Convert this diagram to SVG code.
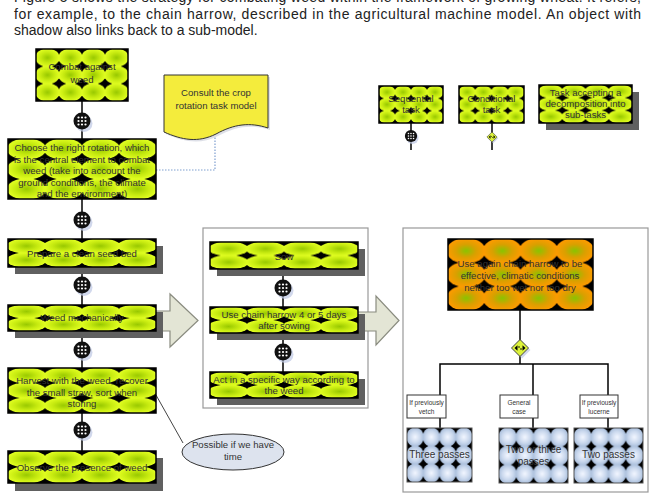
<svg xmlns="http://www.w3.org/2000/svg" width="651" height="494" viewBox="0 0 651 494">
<style>
.t{font-family:"Liberation Sans",Arial,sans-serif;font-size:9.6px;fill:#333;text-anchor:middle}
.tb{font-family:"Liberation Sans",Arial,sans-serif;font-size:10px;fill:#333;text-anchor:middle}
.body{font-family:"Liberation Sans",Arial,sans-serif;font-size:14px;fill:#222}
.sm{font-family:"Liberation Sans",Arial,sans-serif;font-size:6.5px;fill:#333;text-anchor:middle}
.nd{stroke:#000;stroke-width:1.5}
.sh{fill:#606060}
.ln{stroke:#000;stroke-width:1.5;fill:none}
.box{fill:#fff;stroke:#999;stroke-width:1.2}
.lbl{fill:#fff;stroke:#333;stroke-width:1}
.arw{fill:#e3e5d5;stroke:#8a8c80;stroke-width:1.2}
</style>
<defs>
<radialGradient id="gY"><stop offset="0" stop-color="#98c800"/><stop offset="0.55" stop-color="#c6ea10"/><stop offset="1" stop-color="#e2ff22"/></radialGradient>
<radialGradient id="gO"><stop offset="0" stop-color="#88c400"/><stop offset="0.5" stop-color="#d8a000"/><stop offset="1" stop-color="#ff9a00"/></radialGradient>
<radialGradient id="gB"><stop offset="0" stop-color="#f2f6ff"/><stop offset="0.6" stop-color="#cbd9ee"/><stop offset="1" stop-color="#a9bedb"/></radialGradient>
<pattern id="pY3" patternUnits="objectBoundingBox" width="0.25" height="0.33334" patternContentUnits="objectBoundingBox">
<rect width="0.25" height="0.33334" fill="#000"/><ellipse cx="0.125" cy="0.16667" rx="0.133" ry="0.177" fill="url(#gY)"/></pattern>
<pattern id="pY2" patternUnits="objectBoundingBox" width="0.25" height="0.5" patternContentUnits="objectBoundingBox">
<rect width="0.25" height="0.5" fill="#000"/><ellipse cx="0.125" cy="0.25" rx="0.135" ry="0.27" fill="url(#gY)"/></pattern>
<pattern id="pO" patternUnits="objectBoundingBox" width="0.25" height="0.33334" patternContentUnits="objectBoundingBox">
<rect width="0.25" height="0.33334" fill="#000"/><ellipse cx="0.125" cy="0.16667" rx="0.135" ry="0.18" fill="url(#gO)"/></pattern>
<pattern id="pB" patternUnits="objectBoundingBox" width="0.25" height="0.33334" patternContentUnits="objectBoundingBox">
<rect width="0.25" height="0.33334" fill="#000"/><ellipse cx="0.125" cy="0.16667" rx="0.133" ry="0.177" fill="url(#gB)"/></pattern>
<g id="seqSym">
<circle cx="2" cy="2.5" r="8.5" fill="#c2cbe6" opacity="0.75"/>
<circle r="8.5" fill="#111"/>
<g fill="#fff">
<circle cx="-3.5" cy="-3.5" r="1.1"/><circle cx="0" cy="-3.5" r="1.1"/><circle cx="3.5" cy="-3.5" r="1.1"/>
<circle cx="-3.5" cy="0" r="1.1"/><circle cx="0" cy="0" r="1.1"/><circle cx="3.5" cy="0" r="1.1"/>
<circle cx="-3.5" cy="3.5" r="1.1"/><circle cx="0" cy="3.5" r="1.1"/><circle cx="3.5" cy="3.5" r="1.1"/>
</g>
</g>
<g id="decSym">
<polygon points="2,-6.5 10.5,2 2,10.5 -6.5,2" fill="#c2cbe6" opacity="0.75"/>
<polygon points="0,-8.5 8.5,0 0,8.5 -8.5,0" fill="#dcf23a" stroke="#444" stroke-width="1"/>
<path d="M-5.5,0 l3,-2.8 v5.6z M5.5,0 l-3,-2.8 v5.6z" fill="#000"/>
<circle cx="-1" cy="-1" r="0.8" fill="#000"/><circle cx="1" cy="1" r="0.8" fill="#000"/>
</g>
</defs>

<rect width="651" height="494" fill="#fff"/>

<g id="body-text">
<text class="body" x="14" y="2" textLength="627" lengthAdjust="spacing">Figure 5 shows the strategy for combating weed within the framework of growing wheat. It refers,</text>
<text class="body" x="14" y="18.5" textLength="627" lengthAdjust="spacing">for example, to the chain harrow, described in the agricultural machine model. An object with</text>
<text class="body" x="14" y="35">shadow also links back to a sub-model.</text>
</g>

<g id="containers">
<rect class="box" x="203" y="228" width="165" height="180"/>
<rect class="box" x="403" y="228" width="245" height="264"/>
</g>

<g id="connectors">
<line class="ln" x1="82" y1="101" x2="82" y2="451"/>
<line class="ln" x1="283" y1="269" x2="283" y2="372"/>
<polyline class="ln" points="520,310 520,364"/>
<polyline class="ln" points="440,396 440,364 608,364 608,396"/>
<line class="ln" x1="533" y1="364" x2="533" y2="396"/>
<line class="ln" x1="440" y1="418" x2="440" y2="428"/>
<line class="ln" x1="533" y1="418" x2="533" y2="428"/>
<line class="ln" x1="608" y1="418" x2="608" y2="428"/>
<line class="ln" x1="411" y1="123" x2="411" y2="150"/>
<line class="ln" x1="492" y1="123" x2="492" y2="150"/>
<polyline points="156,170 215,170 215,137" fill="none" stroke="#7f9fd0" stroke-width="1.2" stroke-dasharray="1.5,1.5"/>
<line x1="156" y1="395" x2="183" y2="443" stroke="#444" stroke-width="1"/>
<use href="#seqSym" x="82" y="121"/>
<use href="#seqSym" x="82" y="220"/>
<use href="#seqSym" x="82" y="285"/>
<use href="#seqSym" x="82" y="350"/>
<use href="#seqSym" x="82" y="430"/>
<use href="#seqSym" x="283" y="288"/>
<use href="#seqSym" x="283" y="352"/>
<use href="#decSym" x="520" y="348"/>
<use href="#seqSym" transform="translate(411 136) scale(0.72)"/>
<use href="#decSym" transform="translate(492 137) scale(0.6)"/>
</g>

<g id="arrow-1"><polygon class="arw" points="150,311 170,311 170,294 198,320.5 170,347 170,331 150,331"/></g>
<g id="arrow-2"><polygon class="arw" points="352,312 376,312 376,296 399,320.5 376,345 376,331 352,331"/></g>

<g id="n-combat">
<rect class="nd" x="36" y="49" width="92" height="52" fill="url(#pY3)"/>
<text class="t" x="82" y="70">Combat against</text><text class="t" x="82" y="83">weed</text>
</g>
<g id="n-choose">
<rect class="nd" x="8" y="139" width="148" height="60" fill="url(#pY3)"/>
<text class="t" x="82" y="151">Choose the right rotation, which</text>
<text class="t" x="82" y="162.5">is the central element to combat</text>
<text class="t" x="82" y="174">weed (take into account the</text>
<text class="t" x="82" y="185.5">ground conditions, the climate</text>
<text class="t" x="82" y="197">and the environment)</text>
</g>
<g id="n-consult">
<path d="M166,77 H270 V130 C252,124 236,126 218,136 C200,145 184,142 166,134 Z" fill="#c8ccd8" opacity="0.6"/>
<path d="M164,75 H268 V128 C250,122 234,124 216,134 C198,143 182,140 164,132 Z" fill="#f4ec3c" stroke="#333" stroke-width="1"/>
<text class="t" x="216" y="96">Consult the crop</text>
<text class="t" x="216" y="108.5">rotation task model</text>
</g>
<g id="n-prepare">
<rect class="sh" x="15" y="246" width="148" height="28"/>
<rect class="nd" x="8" y="239" width="148" height="28" fill="url(#pY2)"/>
<text class="t" x="82" y="256.5">Prepare a clean seed bed</text>
</g>
<g id="n-weed">
<rect class="sh" x="15" y="312" width="148" height="26"/>
<rect class="nd" x="8" y="305" width="148" height="26" fill="url(#pY2)"/>
<text class="t" x="82" y="321">Weed mechanically</text>
</g>
<g id="n-harvest">
<rect class="nd" x="8" y="368" width="148" height="45" fill="url(#pY3)"/>
<text class="t" x="82" y="384">Harvest with the weed, recover</text>
<text class="t" x="82" y="395.5">the small straw, sort when</text>
<text class="t" x="82" y="407">storing</text>
</g>
<g id="n-observe">
<rect class="sh" x="15" y="458" width="148" height="33"/>
<rect class="nd" x="8" y="451" width="148" height="32" fill="url(#pY2)"/>
<text class="t" x="82" y="470.5">Observe the presence of weed</text>
</g>
<g id="n-possible">
<ellipse cx="233" cy="452" rx="51" ry="18" fill="#dde3ee" stroke="#333" stroke-width="1"/>
<text class="t" x="233" y="448">Possible if we have</text>
<text class="t" x="233" y="459.5">time</text>
</g>
<g id="n-sow">
<rect class="sh" x="217" y="249" width="148" height="27"/>
<rect class="nd" x="210" y="242" width="148" height="27" fill="url(#pY2)"/>
<text class="t" x="284" y="259.5">Sow</text>
</g>
<g id="n-chain">
<rect class="sh" x="217" y="314" width="148" height="26"/>
<rect class="nd" x="210" y="307" width="148" height="26" fill="url(#pY2)"/>
<text class="t" x="284" y="318">Use chain harrow 4 or 5 days</text>
<text class="t" x="284" y="329">after sowing</text>
</g>
<g id="n-act">
<rect class="sh" x="217" y="379" width="148" height="26"/>
<rect class="nd" x="210" y="372" width="148" height="26" fill="url(#pY2)"/>
<text class="t" x="284" y="383">Act in a specific way according to</text>
<text class="t" x="284" y="394">the weed</text>
</g>
<g id="n-again">
<rect class="nd" x="448" y="239" width="145" height="71" fill="url(#pO)"/>
<text class="t" x="520" y="267">Use again chain harrow to be</text>
<text class="t" x="520" y="279">effective, climatic conditions</text>
<text class="t" x="520" y="291">neither too wet nor too dry</text>
</g>
<g id="l-vetch">
<rect class="lbl" x="407" y="395" width="39" height="23"/>
<text class="sm" x="426.5" y="405">If previously</text><text class="sm" x="426.5" y="413.5">vetch</text>
</g>
<g id="l-general">
<rect class="lbl" x="500" y="395" width="38" height="23"/>
<text class="sm" x="519" y="405">General</text><text class="sm" x="519" y="413.5">case</text>
</g>
<g id="l-lucerne">
<rect class="lbl" x="580" y="395" width="38" height="23"/>
<text class="sm" x="599" y="405">If previously</text><text class="sm" x="599" y="413.5">lucerne</text>
</g>
<g id="n-three">
<rect x="407" y="428" width="65" height="54" fill="url(#pB)" stroke="#555" stroke-width="1"/>
<text class="tb" x="439.5" y="458">Three passes</text>
</g>
<g id="n-twothree">
<rect x="499" y="428" width="69" height="55" fill="url(#pB)" stroke="#555" stroke-width="1"/>
<text class="tb" x="533.5" y="452.5">Two or three</text>
<text class="tb" x="533.5" y="464.5">passes</text>
</g>
<g id="n-two">
<rect x="574" y="428" width="69" height="55" fill="url(#pB)" stroke="#555" stroke-width="1"/>
<text class="tb" x="608.5" y="458">Two passes</text>
</g>
<g id="legend-seq">
<rect class="nd" x="379" y="86" width="64" height="37" fill="url(#pY3)"/>
<text class="t" x="411" y="102">Sequential</text><text class="t" x="411" y="113">task</text>
</g>
<g id="legend-cond">
<rect class="nd" x="459" y="86" width="65" height="37" fill="url(#pY3)"/>
<text class="t" x="491.5" y="102">Conditional</text><text class="t" x="491.5" y="113">task</text>
</g>
<g id="legend-decomp">
<rect class="sh" x="546" y="92" width="93" height="38"/>
<rect class="nd" x="539" y="85" width="93" height="38" fill="url(#pY3)"/>
<text class="t" x="585.5" y="96">Task accepting a</text>
<text class="t" x="585.5" y="107">decomposition into</text>
<text class="t" x="585.5" y="118">sub-tasks</text>
</g>
</svg>
